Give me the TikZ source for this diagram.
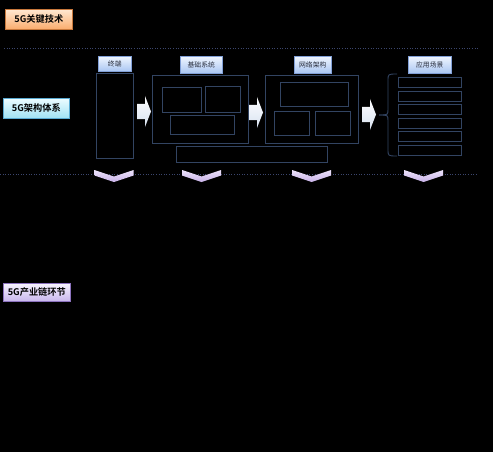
\documentclass[tikz,border=0pt]{standalone}
\usepackage{fontspec}
\newfontfamily\cjk{Noto Sans CJK SC}
\newfontfamily\cjkb{Noto Sans CJK SC Bold}
\begin{document}
\begin{tikzpicture}[x=1pt,y=-1pt,
  darkbox/.style={draw=boxc,line width=0.9pt,inner sep=0,anchor=north west},
  headbox/.style={draw=headc,line width=0.5pt,inner sep=0,anchor=north west,
    top color=headt,bottom color=headb,font=\cjk\fontsize{6.8}{7}\selectfont,text=headtx},
  sidebox/.style={line width=0.6pt,inner sep=0,anchor=north west,
    font=\cjkb\fontsize{9.2}{10}\selectfont,text=black},
  dotline/.style={draw=dotc,dotted,line width=0.6pt},
  barrow/.style={top color=white,bottom color=arrc,draw=none},
  chev/.style={top color=chevt,bottom color=chevb,draw=none},
  bracec/.style={draw=boxc,line width=0.9pt}]
\definecolor{boxc}{RGB}{50,68,98}
\definecolor{headc}{RGB}{130,160,215}
\definecolor{headt}{RGB}{240,246,255}
\definecolor{headb}{RGB}{170,198,242}
\definecolor{headtx}{RGB}{40,45,60}
\definecolor{dotc}{RGB}{60,70,110}
\definecolor{arrc}{RGB}{215,225,240}
\definecolor{chevt}{RGB}{236,226,250}
\definecolor{chevb}{RGB}{200,178,232}
\definecolor{orb}{RGB}{200,120,60}
\definecolor{ort}{RGB}{255,232,210}
\definecolor{orbt}{RGB}{250,172,110}
\definecolor{cyb}{RGB}{90,170,210}
\definecolor{cyt}{RGB}{236,252,255}
\definecolor{cybt}{RGB}{160,226,244}
\definecolor{lvb}{RGB}{140,115,190}
\definecolor{lvt}{RGB}{248,244,255}
\definecolor{lvbt}{RGB}{200,182,236}
\fill[black] (0,0) rectangle (493,452);
\useasboundingbox (0,0) rectangle (493,452);
% dotted separators
\coordinate (d1a) at (4,48); \coordinate (d1b) at (478,48);
\coordinate (d2a) at (0,174); \coordinate (d2b) at (476,174);
\draw[dotline] (d1a) -- (d1b);
\draw[dotline] (d2a) -- (d2b);
% side labels
\node[sidebox,draw=orb,top color=ort,bottom color=orbt,minimum width=67pt,minimum height=20pt] (kt) at (5,9) {5G关键技术};
\node[sidebox,draw=cyb,top color=cyt,bottom color=cybt,minimum width=66pt,minimum height=20pt] (jg) at (3,98) {5G架构体系};
\node[sidebox,draw=lvb,top color=lvt,bottom color=lvbt,minimum width=67pt,minimum height=18pt] (cy) at (3,283) {5G产业链环节};
% headers
\node[headbox,minimum width=33pt,minimum height=15pt] (h1) at (98,56) {终端};
\node[headbox,minimum width=42pt,minimum height=17pt] (h2) at (180,56) {基础系统};
\node[headbox,minimum width=37pt,minimum height=17pt] (h3) at (294,56) {网络架构};
\node[headbox,minimum width=43pt,minimum height=17pt] (h4) at (408,56) {应用场景};
% terminal
\node[darkbox,minimum width=37pt,minimum height=85pt] (t) at (96,73) {};
% base system
\node[darkbox,minimum width=96pt,minimum height=68pt] (b) at (152,75) {};
\node[darkbox,minimum width=39pt,minimum height=25pt] (b1) at (162,87) {};
\node[darkbox,minimum width=35pt,minimum height=26pt] (b2) at (205,86) {};
\node[darkbox,minimum width=64pt,minimum height=19pt] (b3) at (170,115) {};
\node[darkbox,minimum width=151pt,minimum height=16pt] (w) at (176,146) {};
% network
\node[darkbox,minimum width=93pt,minimum height=68pt] (n) at (265,75) {};
\node[darkbox,minimum width=68pt,minimum height=24pt] (n1) at (280,82) {};
\node[darkbox,minimum width=35pt,minimum height=24pt] (n2) at (274,111) {};
\node[darkbox,minimum width=35pt,minimum height=24pt] (n3) at (315,111) {};
% applications
\foreach \yy [count=\i] in {77,91,104,118,131,145}
  \node[darkbox,minimum width=63pt,minimum height=10pt] (a\i) at (398,\yy) {};
% brace
\coordinate (bt) at (397,74);
\coordinate (bb) at (397,156);
\coordinate (tip) at (379,115);
\draw[bracec] (bt) .. controls (388,74) .. (388,81) -- (388,109) .. controls (388,115) .. (tip);
\draw[bracec] (bb) .. controls (388,156) .. (388,149) -- (388,121) .. controls (388,115) .. (tip);
% block arrows
\foreach \ax/\ay in {137/111.5,249/112.5,362/114.5}
  \fill[barrow] (\ax,\ay-7.5) -- (\ax+8,\ay-7.5) -- (\ax+8,\ay-15.5) -- (\ax+14,\ay) -- (\ax+8,\ay+15.5) -- (\ax+8,\ay+7.5) -- (\ax,\ay+7.5) -- cycle;
% chevrons
\foreach \cx in {114,201.5,311.5,423.5}
  \fill[chev] (\cx-19.5,170) -- (\cx,176.5) -- (\cx+19.5,170) -- (\cx+19.5,175.5) -- (\cx,182) -- (\cx-19.5,175.5) -- cycle;
\end{tikzpicture}
\end{document}
